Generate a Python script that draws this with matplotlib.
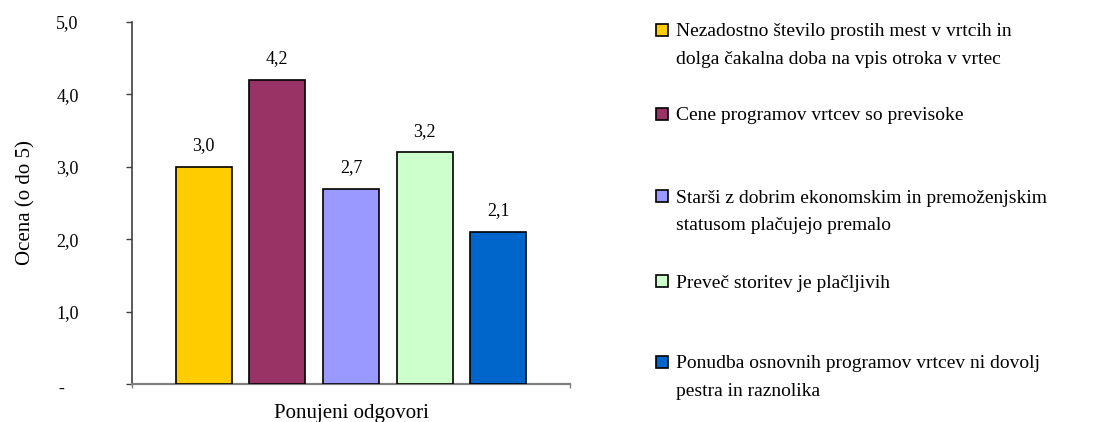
import numpy as np
import matplotlib.pyplot as plt
from matplotlib.patches import Rectangle
import matplotlib.transforms as mtransforms

plt.rcParams['font.family'] = ['Liberation Serif', 'DejaVu Serif']

labels = ['Nezadostno število prostih mest v vrtcih in\ndolga čakalna doba na vpis otroka v vrtec',
          'Cene programov vrtcev so previsoke',
          'Starši z dobrim ekonomskim in premoženjskim\nstatusom plačujejo premalo',
          'Preveč storitev je plačljivih',
          'Ponudba osnovnih programov vrtcev ni dovolj\npestra in raznolika']
values = [3.0, 4.2, 2.7, 3.2, 2.1]
colors = ['#FFCC00', '#993366', '#9999FF', '#CCFFCC', '#0066CC']
yticks = [0, 1, 2, 3, 4, 5]
ytick_labels = ['-', '1,0', '2,0', '3,0', '4,0', '5,0']

W, H = 1099, 422
fig = plt.figure(figsize=(W / 100, H / 100), dpi=100)
ax = fig.add_axes([132 / W, 1 - 384 / H, (570 - 132) / W, (384 - 22) / H])

x = np.arange(len(values))
ax.bar(x, values, width=0.76, color=colors, edgecolor='black', linewidth=1.2, zorder=3)
for xi, v in zip(x, values):
    ax.annotate(f'{v:.1f}'.replace('.', ','), (xi, v), xytext=(0, 9), textcoords='offset points',
                ha='center', va='bottom', fontsize=13)

ax.set_xlim(-0.97, 4.97)
ax.set_ylim(0, 5)
ax.set_yticks(yticks)
ax.set_yticklabels(ytick_labels, fontsize=13)
ax.set_xticks([-0.97, 4.97])
ax.set_xticklabels([])
ax.tick_params(axis='y', direction='out', length=4.5, width=1, color='#404040', pad=34)
ax.tick_params(axis='x', direction='out', length=3, width=1, color='#808080')
# nudge the zero dash to the left like the original
lab0 = ax.get_yticklabels()[0]
lab0.set_transform(lab0.get_transform() + mtransforms.ScaledTranslation(-14 / 100, -3 / 100, fig.dpi_scale_trans))

for s in ['top', 'right']:
    ax.spines[s].set_visible(False)
ax.spines['left'].set_color('#404040')
ax.spines['left'].set_linewidth(1.2)
ax.spines['bottom'].set_color('#808080')
ax.spines['bottom'].set_linewidth(1.6)

ax.set_ylabel('Ocena (o do 5)', fontsize=15, labelpad=15)
ax.set_xlabel('Ponujeni odgovori', fontsize=15, labelpad=8)

# legend drawn by hand
sq_y = [30, 114, 196, 281, 362]
for lab, c, yc in zip(labels, colors, sq_y):
    fig.patches.append(Rectangle((656 / W, 1 - (yc + 6) / H), 12 / W, 12 / H, facecolor=c,
                                 edgecolor='black', linewidth=1.2, transform=fig.transFigure))
    for k, line in enumerate(lab.split('\n')):
        fig.text(676 / W, 1 - (yc + 2 + 27 * k) / H, line, fontsize=14, va='center', ha='left')

fig.savefig('out.png', dpi=100)
